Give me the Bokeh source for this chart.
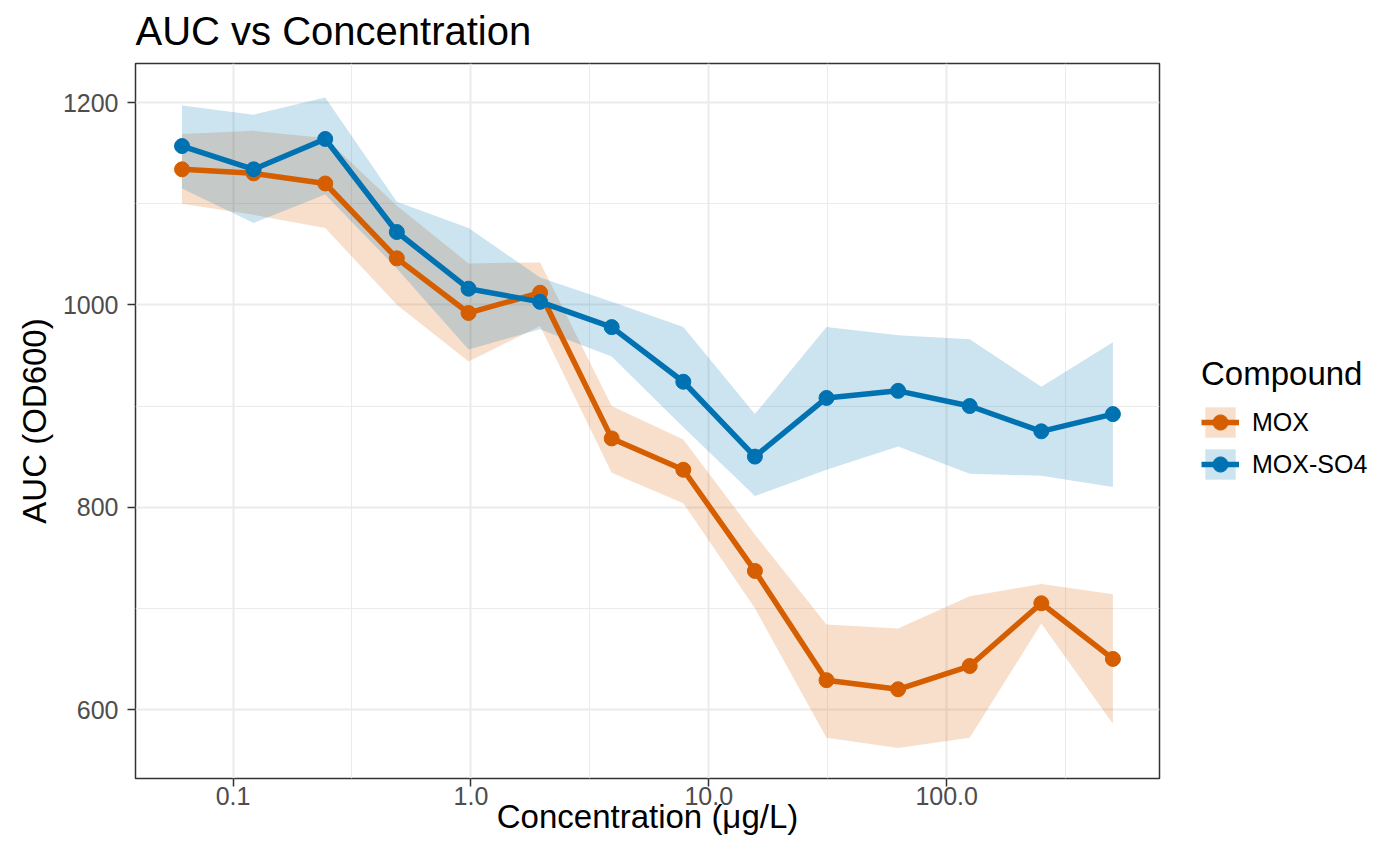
from bokeh.plotting import figure
from bokeh.layouts import row
from bokeh.models import (ColumnDataSource, Range1d, FixedTicker, PrintfTickFormatter,
                          Legend, LegendItem)
from bokeh.embed import file_html
from bokeh.resources import INLINE

# ---------------- data ----------------
concentration = [0.061, 0.122, 0.244, 0.488, 0.977, 1.953, 3.906, 7.8125,
                 15.625, 31.25, 62.5, 125.0, 250.0, 500.0]

mox_auc = [1134, 1130, 1120, 1046, 992, 1012, 868, 837, 737, 629, 620, 643, 705, 650]
mox_upper = [1169, 1172, 1165, 1098, 1041, 1042, 900, 867, 773, 684, 680, 712, 724, 714]
mox_lower = [1100, 1089, 1076, 1000, 944, 979, 834, 804, 700, 572, 562, 572, 685, 586]

so4_auc = [1157, 1134, 1164, 1072, 1016, 1003, 978, 924, 850, 908, 915, 900, 875, 892]
so4_upper = [1197, 1188, 1205, 1102, 1076, 1027, 1003, 978, 892, 978, 970, 966, 919, 963]
so4_lower = [1115, 1081, 1109, 1036, 956, 976, 949, 879, 811, 837, 860, 833, 831, 820]

compounds = ["MOX", "MOX-SO4"]
colors = ["#D55E00", "#0072B2"]

x_ticks = [0.1, 1, 10, 100]
x_minor_ticks = [0.0316, 0.316, 3.16, 31.6, 316]
y_ticks = [600, 800, 1000, 1200]
y_minor_ticks = [700, 900, 1100]

FONT = "Liberation Sans"

# ---------------- main figure ----------------
p = figure(frame_width=1024, frame_height=715, x_axis_type="log",
           x_range=Range1d(0.03888, 784.9), y_range=Range1d(531.8, 1238.6),
           output_backend="svg", toolbar_location=None,
           min_border_left=135, min_border_right=2, min_border_top=62,
           min_border_bottom=0)

p.title.text = "AUC vs Concentration"
p.title.text_font = FONT
p.title.text_font_size = "40px"
p.title.text_font_style = "normal"
p.title.text_color = "#000000"
p.title.align = "left"
p.title.vertical_align = "top"
p.title.offset = 0
p.title.standoff = 17

p.background_fill_color = "white"
p.border_fill_color = "white"
p.outline_line_color = "#333333"
p.outline_line_width = 1.5

x_ticker = FixedTicker(ticks=x_ticks, minor_ticks=x_minor_ticks)
y_ticker = FixedTicker(ticks=y_ticks, minor_ticks=y_minor_ticks)
p.xaxis.ticker = x_ticker
p.yaxis.ticker = y_ticker
p.xaxis.formatter = PrintfTickFormatter(format="%.1f")

for ax in (p.xaxis, p.yaxis):
    ax.axis_line_color = None
    ax.major_tick_line_color = "#333333"
    ax.major_tick_line_width = 1.5
    ax.major_tick_out = 8
    ax.major_tick_in = 0
    ax.minor_tick_line_color = None
    ax.major_label_text_font = FONT
    ax.major_label_text_font_size = "25px"
    ax.major_label_text_color = "#4D4D4D"
    ax.axis_label_text_font = FONT
    ax.axis_label_text_font_style = "normal"
    ax.axis_label_text_color = "#000000"

p.xaxis.axis_label = "Concentration (\u03bcg/L)"
p.yaxis.axis_label = "AUC (OD600)"
p.xaxis.axis_label_text_font_size = "33px"
p.yaxis.axis_label_text_font_size = "33px"
p.xaxis.major_label_standoff = 0
p.xaxis.axis_label_standoff = -10
p.yaxis.major_label_standoff = 9
p.yaxis.axis_label_standoff = 7

for g in (p.xgrid, p.ygrid):
    g.grid_line_color = "#EBEBEB"
    g.grid_line_width = 2
    g.minor_grid_line_color = "#EBEBEB"
    g.minor_grid_line_width = 1
p.xgrid.ticker = x_ticker
p.ygrid.ticker = y_ticker

series = [
    (compounds[0], colors[0], mox_auc, mox_lower, mox_upper),
    (compounds[1], colors[1], so4_auc, so4_lower, so4_upper),
]

for name, col, auc, lo, hi in series:
    src = ColumnDataSource(dict(x=concentration, y=auc, lo=lo, hi=hi))
    p.varea(x="x", y1="lo", y2="hi", source=src, fill_color=col, fill_alpha=0.2)

for name, col, auc, lo, hi in series:
    src = ColumnDataSource(dict(x=concentration, y=auc))
    p.line(x="x", y="y", source=src, line_color=col, line_width=5.5)
    p.scatter(x="x", y="y", source=src, size=15, fill_color=col,
              line_color=col, marker="circle")

# ---------------- legend panel (right of the plot) ----------------
lf = figure(width=207, height=841, x_range=Range1d(0, 1), y_range=Range1d(0, 1),
            output_backend="svg", toolbar_location=None,
            x_axis_location=None, y_axis_location=None, min_border=0)
lf.title.visible = False
lf.outline_line_color = None
lf.background_fill_color = "white"
lf.border_fill_color = "white"
lf.grid.visible = False

items = []
for name, col, auc, lo, hi in series:
    # key renderers: one point placed outside the visible range (legend keys only)
    key_src = ColumnDataSource(dict(x=[9.0], y=[9.0], lo=[9.0], hi=[9.0]))
    band = lf.varea(x="x", y1="lo", y2="hi", source=key_src, fill_color=col,
                    fill_alpha=0.2)
    ln = lf.line(x="x", y="y", source=key_src, line_color=col, line_width=5.5)
    pts = lf.scatter(x="x", y="y", source=key_src, size=15, fill_color=col,
                     line_color=col, marker="circle")
    items.append(LegendItem(label=name, renderers=[band, ln, pts]))

legend = Legend(items=items, title="Compound", location=(40, 299))
legend.title_text_font = FONT
legend.title_text_font_size = "33px"
legend.title_text_font_style = "normal"
legend.title_text_color = "#000000"
legend.title_standoff = 10
legend.label_text_font = FONT
legend.label_text_font_size = "25px"
legend.label_text_color = "#000000"
legend.glyph_width = 38
legend.glyph_height = 38
legend.label_standoff = 13
legend.spacing = 4
legend.padding = 0
legend.margin = 0
legend.border_line_color = None
legend.background_fill_alpha = 0
lf.add_layout(legend)

layout = row(p, lf)
open("out.html", "w").write(file_html(layout, INLINE))
